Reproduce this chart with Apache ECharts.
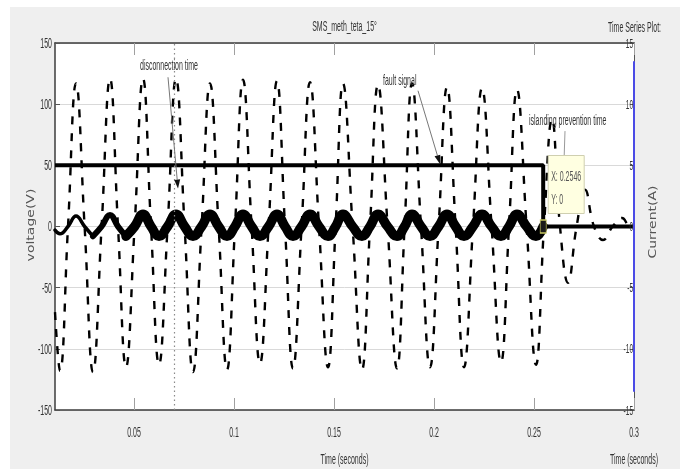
<!DOCTYPE html>
<html>
<head>
<meta charset="utf-8">
<script src="https://cdn.jsdelivr.net/npm/echarts@6/dist/echarts.min.js"></script>
<style>
  html, body { margin: 0; padding: 0; background: #fff; }
  #chart { width: 680px; height: 469px; }
</style>
</head>
<body>
<div id="chart"></div>
<script>
// ---- data ----------------------------------------------------------------
// Grid voltage (V): samples at the crests, troughs and zero crossings
const voltT = [0.0105,0.0130,0.0170,0.0210,0.0253,0.0295,0.0338,0.0380,0.0420,0.0460,
               0.0503,0.0545,0.0585,0.0625,0.0668,0.0710,0.0753,0.0795,0.0838,0.0880,
               0.0923,0.0965,0.1005,0.1045,0.1088,0.1130,0.1173,0.1215,0.1255,0.1295,
               0.1338,0.1380,0.1425,0.1470,0.1508,0.1545,0.1593,0.1640,0.1680,0.1720,
               0.1768,0.1815,0.1853,0.1890,0.1935,0.1980,0.2023,0.2065,0.2108,0.2150,
               0.2195,0.2240,0.2288,0.2335,0.2375,0.2415,0.2463,0.2510,0.2550,0.2590,
               0.2630,0.2670,0.2713,0.2755,0.2800,0.2845,0.2893,0.2940,0.2975,0.3000];
const voltV = [-70,-118,0,117,0,-119,0,121,0,-115,
               0,121,0,-113,0,121,0,-119,0,117,
               0,-117,0,120,0,-112,0,119,0,-116,
               0,118,0,-115,0,117,0,-117,0,116,
               0,-116,0,117,0,-115,0,114,0,-115,
               0,113,0,-111,0,112,0,-113,0,88,
               0,-46,0,30,0,-11,0,7,0,-2];

// Inverter current (A), right-hand axis
const currT = [0.0105,0.0130,0.0170,0.0210,0.0253,0.0295,0.0338,0.0380,0.0420,0.0460,
               0.0503,0.0545,0.0585,0.0625,0.0668,0.0710,0.0753,0.0795,0.0838,0.0880,
               0.0923,0.0965,0.1005,0.1045,0.1088,0.1130,0.1173,0.1215,0.1255,0.1295,
               0.1338,0.1380,0.1425,0.1470,0.1508,0.1545,0.1593,0.1640,0.1680,0.1720,
               0.1768,0.1815,0.1853,0.1890,0.1935,0.1980,0.2023,0.2065,0.2108,0.2150,
               0.2195,0.2240,0.2288,0.2335,0.2375,0.2415,0.2463,0.2510,0.2546];
const currA = [-0.3,-0.6,0,0.85,0,-0.8,0,0.95,0,-0.8,
               0,1.0,0,-0.8,0,1.0,0,-0.8,0,1.0,
               0,-0.8,0,1.0,0,-0.8,0,1.0,0,-0.8,
               0,1.0,0,-0.8,0,1.0,0,-0.8,0,1.0,
               0,-0.8,0,1.0,0,-0.8,0,1.0,0,-0.8,
               0,1.0,0,-0.8,0,1.0,0,-0.8,0];

// Fault (trip) signal, right-hand axis
const faultT = [0.0105, 0.2546, 0.2546, 0.3];
const faultA = [5, 5, 0, 0];

// Axes
const timeRange = [0.0105, 0.3];
const timeTicks = [0.05, 0.1, 0.15, 0.2, 0.25, 0.3];
const voltTicks = [-150, -100, -50, 0, 50, 100, 150];
const currTicks = [-15, -10, -5, 0, 5, 10, 15];

// Events
const disconnectT = 0.072;
const tipT = 0.2546;
const tipY = 0;
const railT = 0.3;
const railA = [13.5, -13.5];

// ---- chart ---------------------------------------------------------------
const SANS = "'Liberation Sans',Arial,sans-serif";
const SQX = 0.5;                // horizontal squeeze of the figure lettering
const zip = (a, b) => a.map((v, i) => [v, b[i]]);
const chart = echarts.init(document.getElementById('chart'), null, { renderer: 'canvas' });

// current trace gets heavier as the switching ripple builds up
function currentSlice(t0, t1) {
  const out = [];
  currT.forEach((t, i) => { if (t >= t0 - 1e-9 && t <= t1 + 1e-9) out.push([t, currA[i]]); });
  return out;
}
const currSegments = [
  { from: 0, to: 0.0295, width: 3.5 },
  { from: 0.0295, to: 0.0460, width: 6 },
  { from: 0.0460, to: 1, width: 9.5 }
];

const xAxisBase = {
  type: 'value', min: timeRange[0], max: timeRange[1],
  axisLine: { show: true, onZero: false, lineStyle: { color: '#3c3c3c', width: 1.5 } },
  axisTick: { show: true, inside: true, length: 12, customValues: timeTicks, lineStyle: { color: '#a0a0a0' } },
  axisLabel: { show: false },
  splitLine: { show: false }
};

const option = {
  backgroundColor: '#ffffff',
  animation: false,
  grid: { left: 55, right: 46, top: 43, bottom: 59, show: true, backgroundColor: '#ffffff', borderWidth: 0 },
  xAxis: [
    Object.assign({}, xAxisBase, { position: 'bottom' }),
    Object.assign({}, xAxisBase, { position: 'top' })
  ],
  yAxis: [
    {
      type: 'value', position: 'left', min: voltTicks[0], max: voltTicks[voltTicks.length - 1], interval: 50,
      axisLine: { show: true, onZero: false, lineStyle: { color: '#3c3c3c', width: 1.5 } },
      axisTick: { show: true, inside: true, length: 5, lineStyle: { color: '#555' } },
      axisLabel: { show: false },
      splitLine: { show: true, lineStyle: { color: '#d9d9d9', width: 1 } }
    },
    {
      type: 'value', position: 'right', min: currTicks[0], max: currTicks[currTicks.length - 1], interval: 5,
      axisLine: { show: true, onZero: false, lineStyle: { color: '#555', width: 1 } },
      axisTick: { show: true, inside: true, length: 4, lineStyle: { color: '#555' } },
      axisLabel: { show: false },
      splitLine: { show: false }
    }
  ],
  series: [
    {
      name: 'voltage', type: 'line', xAxisIndex: 0, yAxisIndex: 0,
      data: zip(voltT, voltV), smooth: 0.45, symbol: 'none', z: 2,
      lineStyle: { color: '#000', width: 2.4, type: [8, 9] },
      markLine: {
        silent: true, symbol: 'none', label: { show: false },
        lineStyle: { color: '#8a8a8a', type: [1.5, 3], width: 1.2 },
        data: [{ xAxis: disconnectT }]
      }
    },
    ...currSegments.map(s => ({
      name: 'current', type: 'line', xAxisIndex: 0, yAxisIndex: 1,
      data: currentSlice(s.from, s.to), smooth: 0.45, symbol: 'none', z: 3,
      lineStyle: { color: '#000', width: s.width, cap: 'round', join: 'round' }
    })),
    {
      name: 'fault', type: 'line', xAxisIndex: 0, yAxisIndex: 1,
      data: zip(faultT, faultA), symbol: 'none', z: 4,
      lineStyle: { color: '#000', width: 4 },
      markPoint: {
        silent: true, symbol: 'rect', symbolSize: [6, 13],
        itemStyle: { color: '#1a1a1a', borderColor: '#c8c860', borderWidth: 1 },
        label: { show: false },
        data: [{ coord: [tipT, tipY] }]
      }
    },
    {
      name: 'rail', type: 'line', xAxisIndex: 0, yAxisIndex: 1, clip: false,
      data: railA.map(a => [railT, a]), symbol: 'none', z: 5,
      lineStyle: { color: '#4b4be6', width: 2 }
    }
  ]
};
chart.setOption(option);

// ---- lettering and annotations (placed through the axes) ------------------
const toPx = (t, v) => chart.convertToPixel({ xAxisIndex: 0, yAxisIndex: 0 }, [t, v]);
const toPxA = (t, a) => chart.convertToPixel({ xAxisIndex: 0, yAxisIndex: 1 }, [t, a]);
const xPx = t => chart.convertToPixel({ xAxisIndex: 0 }, t);
const yPx = v => chart.convertToPixel({ yAxisIndex: 0 }, v);
const yPxA = a => chart.convertToPixel({ yAxisIndex: 1 }, a);

function txt(text, x, y, align, extra) {
  const s = Object.assign({ fontSize: 14, fill: '#333', z: 60 }, extra || {});
  return {
    type: 'text', z: s.z, silent: true, x, y, scaleX: SQX,
    style: { text, fontSize: s.fontSize, fontFamily: SANS, fill: s.fill,
             textAlign: align, textVerticalAlign: 'middle' }
  };
}
function arrow(p1, p2, color) {
  const ang = Math.atan2(p2[1] - p1[1], p2[0] - p1[0]);
  const L = 9, W = 3;
  const bx = p2[0] - L * Math.cos(ang), by = p2[1] - L * Math.sin(ang);
  const nx = -Math.sin(ang) * W, ny = Math.cos(ang) * W;
  return [
    { type: 'line', z: 50, silent: true, shape: { x1: p1[0], y1: p1[1], x2: bx, y2: by },
      style: { stroke: color, lineWidth: 1 } },
    { type: 'polygon', z: 50, silent: true,
      shape: { points: [[p2[0], p2[1]], [bx + nx, by + ny], [bx - nx, by - ny]] },
      style: { fill: '#111' } }
  ];
}
function sideTitle(text, x, y) {
  return { type: 'text', z: 60, silent: true, x, y, rotation: Math.PI / 2, scaleY: 0.7,
           style: { text, fontSize: 14, fontFamily: "'DejaVu Sans',sans-serif", fill: '#555',
                    textAlign: 'center', textVerticalAlign: 'middle' } };
}

const plotL = xPx(timeRange[0]), plotR = xPx(timeRange[1]);
const plotT = yPx(voltTicks[voltTicks.length - 1]), plotB = yPx(voltTicks[0]);
const plotMid = (plotL + plotR) / 2;

const tip = toPxA(tipT, tipY);
const box = { x: tip[0] + 5, y: tip[1] - 71, w: 36, h: 58 };

const graphics = [
  // figure frame behind the axes
  { type: 'rect', z: -100, silent: true, shape: { x: 10, y: 7, width: 670, height: 462 }, style: { fill: '#efefef' } },
  { type: 'rect', z: -99, silent: true, shape: { x: plotL, y: plotT, width: plotR - plotL, height: plotB - plotT }, style: { fill: '#ffffff' } },

  // tick labels
  ...timeTicks.map(t => txt(String(t), xPx(t), plotB + 23, 'center')),
  ...voltTicks.map(v => txt(String(v), plotL - 3, yPx(v) + 1, 'right')),
  ...currTicks.map(a => txt(String(a), plotR - 1, yPxA(a) + 1, 'right', { fontSize: 13 })),

  // titles
  txt('SMS_meth_teta_15°', plotMid, 27, 'center'),
  txt('Time Series Plot:', 608, 28, 'left'),
  txt('Time (seconds)', plotMid, plotB + 50, 'center'),
  txt('Time (seconds)', plotR, plotB + 50, 'center'),
  sideTitle('voltage(V)', 31, 225),
  sideTitle('Current(A)', 653, 222),

  // callouts
  txt('disconnection time', toPx(0.0530, 131)[0], toPx(0.0530, 131)[1], 'left'),
  ...arrow(toPx(0.0670, 122), toPx(0.0720, 31), '#777'),

  txt('fault signal', toPx(0.1745, 119)[0], toPx(0.1745, 119)[1], 'left'),
  ...arrow(toPx(0.1920, 111), toPx(0.2030, 51), '#777'),

  txt('islanding prevention time', toPx(0.2475, 86.5)[0], toPx(0.2475, 86.5)[1], 'left'),
  { type: 'line', z: 50, silent: true,
    shape: (() => { const a = toPx(0.2655, 78); return { x1: a[0], y1: a[1], x2: box.x + 16, y2: box.y }; })(),
    style: { stroke: '#999', lineWidth: 1 } },

  // data tip
  { type: 'rect', z: 70, silent: true, shape: { x: box.x, y: box.y, width: box.w, height: box.h },
    style: { fill: '#ffffe1', stroke: '#cfcfb0', lineWidth: 1 } },
  txt('X: ' + tipT, box.x + 3, box.y + 22, 'left', { fill: '#555', z: 71 }),
  txt('Y: ' + tipY, box.x + 3, box.y + 45, 'left', { fill: '#555', z: 71 })
];
chart.setOption({ graphic: { elements: graphics } });
</script>
</body>
</html>
